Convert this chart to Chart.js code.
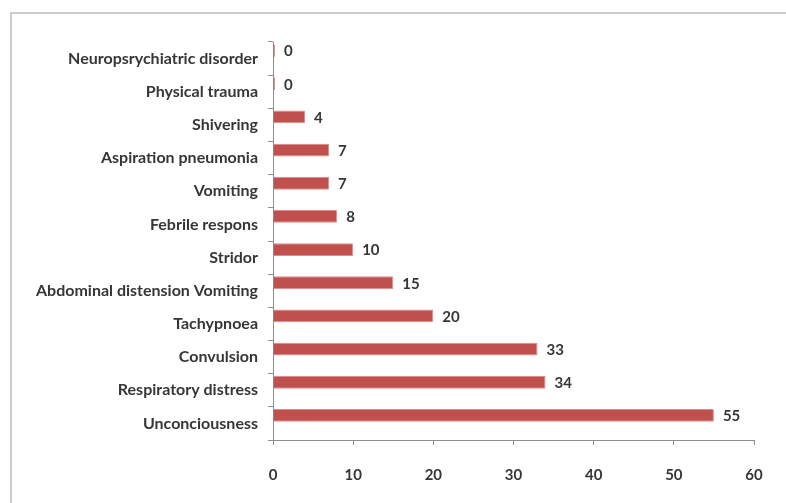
<!DOCTYPE html>
<html>
<head>
<meta charset="utf-8">
<script src="https://cdn.jsdelivr.net/npm/chart.js@4/dist/chart.umd.min.js"></script>
<style>
  html, body { margin: 0; padding: 0; background: #fff; }
  #wrap { position: relative; width: 786px; height: 503px; overflow: hidden; }
  #frame { position: absolute; left: 10px; top: 12px; width: 800px; height: 520px;
           border-left: 2px solid #cdcdcd; border-top: 2px solid #cdcdcd; }
  #chart { position: absolute; left: 0; top: 0; }
</style>
</head>
<body>
<div id="wrap">
  <div id="frame"></div>
  <canvas id="chart" width="786" height="503"></canvas>
</div>
<script>
// Presenting symptoms, number of cases
const categories = [
  'Neuropsrychiatric disorder',
  'Physical trauma',
  'Shivering',
  'Aspiration pneumonia',
  'Vomiting',
  'Febrile respons',
  'Stridor',
  'Abdominal distension Vomiting',
  'Tachypnoea',
  'Convulsion',
  'Respiratory distress',
  'Unconciousness'
];
const cases = [0, 0, 4, 7, 7, 8, 10, 15, 20, 33, 34, 55];
const xTicks = [0, 10, 20, 30, 40, 50, 60];

const FONT = 'Lato, "Open Sans", sans-serif';
const TEXT = '#363636';

// Writes each value just past the end of its bar
const valueLabels = {
  id: 'valueLabels',
  afterDatasetsDraw(chart) {
    const ctx = chart.ctx;
    const meta = chart.getDatasetMeta(0);
    ctx.save();
    ctx.font = 'bold 15px ' + FONT;
    ctx.fillStyle = TEXT;
    ctx.textAlign = 'left';
    ctx.textBaseline = 'middle';
    meta.data.forEach((bar, i) => {
      ctx.fillText(String(cases[i]), bar.x + 9, bar.y + 1);
    });
    ctx.restore();
  }
};

new Chart(document.getElementById('chart'), {
  type: 'bar',
  data: {
    labels: categories,
    datasets: [
      {
        data: cases,
        backgroundColor: '#c0504d',
        borderColor: '#d98b89',
        borderWidth: { top: 1, bottom: 1, right: 1, left: 0 },
        borderSkipped: 'start',
        borderRadius: 1,
        minBarLength: 2,
        categoryPercentage: 0.965,
        barPercentage: 0.8
      },
      {
        // empty companion series keeps the bars in the upper part of each row
        data: categories.map(() => null),
        backgroundColor: 'rgba(0,0,0,0)',
        categoryPercentage: 0.965,
        barPercentage: 0.8
      }
    ]
  },
  options: {
    indexAxis: 'y',
    responsive: false,
    animation: false,
    layout: { padding: { top: 42, right: 32, left: 0, bottom: 0 } },
    plugins: { legend: { display: false }, tooltip: { enabled: false } },
    scales: {
      x: {
        min: 0,
        max: 60,
        afterBuildTicks(scale) { scale.ticks = xTicks.map(v => ({ value: v })); },
        afterFit(scale) { scale.height = 63; },
        border: { display: true, color: '#8e8e8e', width: 1 },
        grid: { drawOnChartArea: false, drawTicks: true, tickLength: 5, color: '#8e8e8e' },
        ticks: { padding: 21, color: TEXT, font: { family: FONT, size: 15, weight: 'bold' } }
      },
      y: {
        afterFit(scale) { scale.width = 273; },
        border: { display: true, color: '#8e8e8e', width: 1 },
        grid: { drawOnChartArea: false, drawTicks: true, tickLength: 5, color: '#8e8e8e', offset: true },
        ticks: { padding: 10, color: TEXT, font: { family: FONT, size: 16, weight: 'bold' } }
      }
    }
  },
  plugins: [valueLabels]
});
</script>
</body>
</html>
